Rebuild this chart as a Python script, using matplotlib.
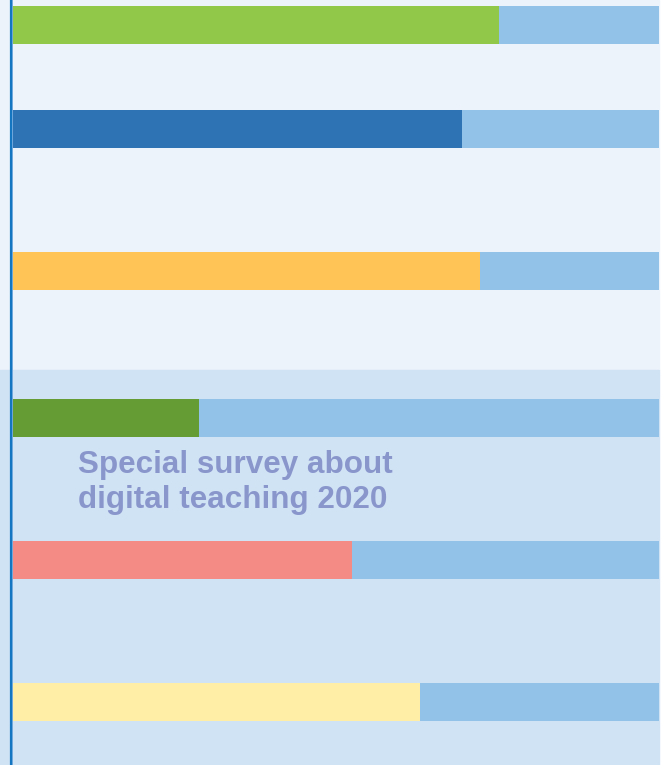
import matplotlib.pyplot as plt
from matplotlib.patches import Rectangle

plt.rcParams['font.family'] = ['Liberation Sans', 'DejaVu Sans']

# share of each bar (percent), top to bottom
shares = [75.3, 69.6, 72.4, 28.9, 52.5, 63.1]
bar_colors = ['#92C84A', '#2E74B5', '#FFC455', '#659D34', '#F48B84', '#FFEEA6']
rest_color = '#93C2E8'
title = 'Special survey about\ndigital teaching 2020'

# layout, in pixels from the top
rows = [25, 129, 271, 418, 560, 702]
bar_h = 38
W, H = 662, 765
x0, x1 = 12, 659
scale = (x1 - x0) / 100.0

fig = plt.figure(figsize=(W / 100, H / 100), dpi=100)
ax = fig.add_axes([0, 0, 1, 1])
ax.set_xlim(-x0 / scale, (W - x0) / scale)
ax.set_ylim(H, 0)
ax.axis('off')

left = -x0 / scale
right = 100
ax.add_patch(Rectangle((left, 0), right - left, 370, color='#ECF3FB', zorder=0))
ax.add_patch(Rectangle((left, 370), right - left, H - 370, color='#D0E3F5', zorder=0))

ax.barh(rows, shares, height=bar_h, color=bar_colors, zorder=2)
ax.barh(rows, [100 - s for s in shares], left=shares, height=bar_h,
        color=rest_color, zorder=1)

ax.axvline(-1 / scale, color='#1475C0', lw=1.6, zorder=3)
ax.axvline(0.5 / scale, color='#6FA8DC', lw=0.7, zorder=3)

# one baseline per title line
for line, base in zip(title.split('\n'), [473, 508]):
    ax.text((78 - x0) / scale, base, line, fontsize=22.6, fontweight='bold',
            color='#8896CC', ha='left', va='baseline')

fig.savefig('out.png', dpi=100)
